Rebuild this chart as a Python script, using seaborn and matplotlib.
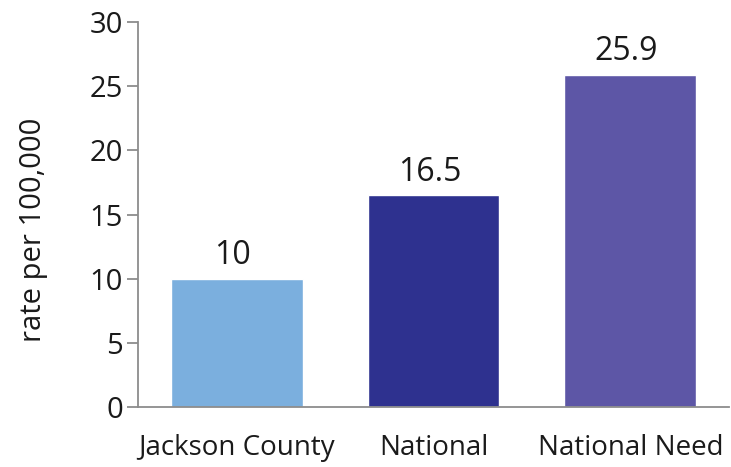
import numpy as np
import matplotlib
matplotlib.use("Agg")
import matplotlib.pyplot as plt
import seaborn as sns
import pandas as pd

categories = ["Jackson County", "National", "National Need"]
rates = [10, 16.5, 25.9]
labels = ["10", "16.5", "25.9"]
colors = ["#7BAFDE", "#2E318F", "#5D56A6"]

sns.set_style("white")
plt.rcParams["font.family"] = ["Open Sans", "DejaVu Sans"]

df = pd.DataFrame({"category": categories, "rate": rates})

fig = plt.figure(figsize=(7.31, 4.67), dpi=100)
ax = fig.add_axes([0.189, 0.128, 0.808, 0.825])

sns.barplot(data=df, x="category", y="rate", hue="category", palette=colors,
            width=0.67, legend=False, ax=ax, saturation=1)

# value labels above bars
for i, (v, t) in enumerate(zip(rates, labels)):
    ax.text(i - 0.02, v + 1.15, t, ha="center", va="baseline", fontsize=23, color="#1a1a1a")

ax.set_ylim(0, 30)
ax.set_xlim(-0.5, 2.5)
ax.set_yticks(range(0, 31, 5))
ax.set_xlabel("")
ax.set_ylabel("rate per 100,000", fontsize=21, color="#1a1a1a")
ax.yaxis.set_label_coords(-0.152, 0.46)

grey = "#8c8c8c"
for s in ["top", "right"]:
    ax.spines[s].set_visible(False)
for s in ["left", "bottom"]:
    ax.spines[s].set_color(grey)
    ax.spines[s].set_linewidth(1.3)

ax.set_xticks([-0.5, 0.5, 1.5, 2.5], minor=True)
ax.tick_params(axis="x", which="major", length=0, labelsize=20, pad=19, labelcolor="#1a1a1a")
ax.tick_params(axis="x", which="minor", length=8, width=1.3, color=grey, direction="out")
ax.tick_params(axis="y", length=8, width=1.3, color=grey, direction="out",
               labelsize=21, labelcolor="#1a1a1a", pad=3, left=True)

fig.savefig("out.png", dpi=100)
